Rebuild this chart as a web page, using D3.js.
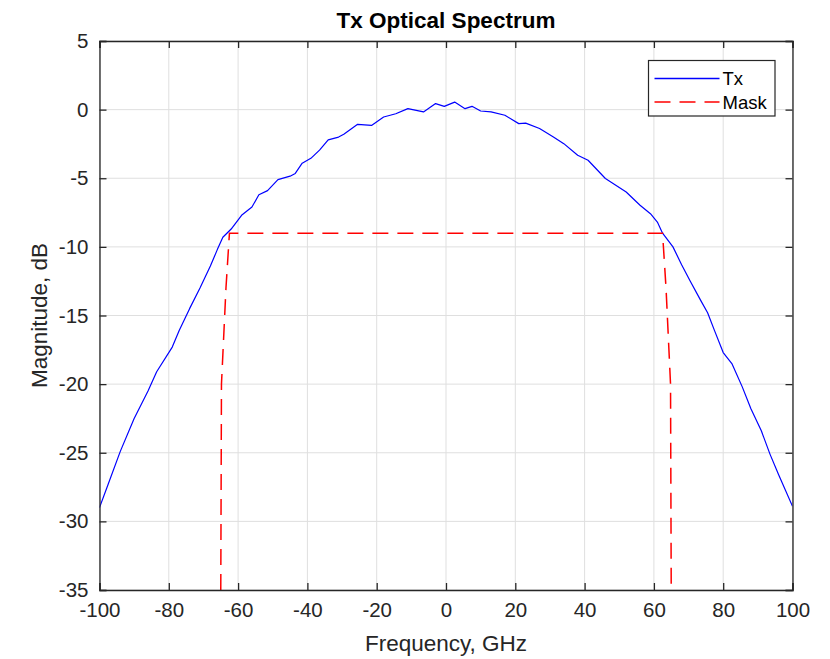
<!DOCTYPE html>
<html>
<head>
<meta charset="utf-8">
<script src="https://cdn.jsdelivr.net/npm/d3@7"></script>
<style>
  html, body { margin: 0; padding: 0; background: #fff; }
  svg { display: block; font-family: "Liberation Sans", Arial, Helvetica, sans-serif; }
</style>
</head>
<body>
<svg id="chart" width="830" height="659"></svg>
<script>
// ---- data ----
const txFreq = [-100,-97.5,-94,-90,-86,-83.5,-79,-77,-74,-71,-68,-66,-64.4,-62,-59,-56,-54,-51.5,-48.5,-45,-43.5,-41.5,-39,-36.5,-34,-31,-29.5,-25.5,-21.5,-18,-14.5,-11,-6.5,-3,-0.5,2.5,5.5,7.5,10,13,17,21,23,27,31,34,38,41,46,49,52,56,59,61,62.5,65.5,68,70.5,73.5,75.5,77.5,80,82.5,85.5,88,91,93.5,96,100];
const txMag  = [-29,-27.3,-24.9,-22.5,-20.5,-19.1,-17.3,-16.1,-14.5,-13.0,-11.4,-10.2,-9.3,-8.7,-7.7,-7.1,-6.2,-5.9,-5.1,-4.85,-4.65,-3.9,-3.55,-2.95,-2.2,-2.0,-1.8,-1.07,-1.15,-0.54,-0.3,0.07,-0.17,0.44,0.24,0.55,0.07,0.24,-0.1,-0.17,-0.41,-1.02,-0.98,-1.38,-1.99,-2.48,-3.33,-3.69,-5.02,-5.51,-6.0,-6.97,-7.58,-8.19,-9.0,-10.0,-11.3,-12.5,-13.9,-14.8,-16.1,-17.7,-18.5,-20.2,-21.8,-23.4,-25.1,-26.6,-28.9];
const maskFreq = [-65,-64.8,-63.5,-62.5,62.5,63.5,64.8,65];
const maskMag  = [-35,-20,-13,-9,-9,-13,-20,-35];
const xTicks = [-100,-80,-60,-40,-20,0,20,40,60,80,100];
const yTicks = [5,0,-5,-10,-15,-20,-25,-30,-35];
const seriesNames = ["Tx","Mask"];
const title = "Tx Optical Spectrum";
const xLabel = "Frequency, GHz";
const yLabel = "Magnitude, dB";

// ---- layout ----
const svg = d3.select("#chart");
const L = 99.5, R = 792.5, T = 41, B = 590;
const axisColor = "#262626";
const x = d3.scaleLinear().domain([-100, 100]).range([L, R]);
const y = d3.scaleLinear().domain([-35, 5]).range([B, T]);

// grid
const grid = svg.append("g");
grid.selectAll("line.gx").data(xTicks).enter().append("line")
  .attr("x1", d => x(d)).attr("x2", d => x(d)).attr("y1", T).attr("y2", B)
  .attr("stroke", "#dfdfdf").attr("stroke-width", 1);
grid.selectAll("line.gy").data(yTicks).enter().append("line")
  .attr("y1", d => y(d)).attr("y2", d => y(d)).attr("x1", L).attr("x2", R)
  .attr("stroke", "#dfdfdf").attr("stroke-width", 1);

// data lines
svg.append("clipPath").attr("id", "clip").append("rect")
  .attr("x", L).attr("y", T).attr("width", R - L).attr("height", B - T);

const lineGen = d3.line().x(d => x(d[0])).y(d => y(d[1]));
const txData = txFreq.map((f, i) => [f, txMag[i]]);
const maskData = maskFreq.map((f, i) => [f, maskMag[i]]);

const plot = svg.append("g").attr("clip-path", "url(#clip)");
plot.append("path").datum(txData).attr("d", lineGen)
  .attr("fill", "none").attr("stroke", "#0000ff").attr("stroke-width", 1.2)
  .attr("stroke-linejoin", "round");
plot.append("path").datum(maskData).attr("d", lineGen)
  .attr("fill", "none").attr("stroke", "#ff0000").attr("stroke-width", 1.5)
  .attr("stroke-dasharray", "16,9");

// axes (box with inward ticks on all sides)
const tickLen = 7;
const fs = 20.5;
const xAxisB = d3.axisBottom(x).tickValues(xTicks).tickSize(-tickLen).tickPadding(12);
const xAxisT = d3.axisTop(x).tickValues(xTicks).tickSize(-tickLen).tickFormat("");
const yAxisL = d3.axisLeft(y).tickValues(yTicks).tickSize(-tickLen).tickPadding(11);
const yAxisR = d3.axisRight(y).tickValues(yTicks).tickSize(-tickLen).tickFormat("");

function style(g) {
  g.selectAll("path.domain").attr("stroke", axisColor).attr("stroke-width", 1.3);
  g.selectAll(".tick line").attr("stroke", axisColor).attr("stroke-width", 1.3);
  g.selectAll(".tick text").attr("fill", axisColor).attr("font-size", fs)
    .attr("font-family", "'Liberation Sans', Arial, sans-serif");
}
svg.append("g").attr("transform", `translate(0,${B})`).call(xAxisB).call(style)
  .selectAll(".tick text").text(d => String(d));
svg.append("g").attr("transform", `translate(0,${T})`).call(xAxisT).call(style);
svg.append("g").attr("transform", `translate(${L},0)`).call(yAxisL).call(style)
  .selectAll(".tick text").text(d => String(d));
svg.append("g").attr("transform", `translate(${R},0)`).call(yAxisR).call(style);

// title & labels
svg.append("text").attr("x", (L + R) / 2).attr("y", 28).attr("text-anchor", "middle")
  .attr("font-size", 22.5).attr("font-weight", "bold").attr("fill", "#000").text(title);
svg.append("text").attr("x", (L + R) / 2).attr("y", 651).attr("text-anchor", "middle")
  .attr("font-size", 22.5).attr("fill", axisColor).text(xLabel);
svg.append("text").attr("transform", `translate(47,${(T + B) / 2}) rotate(-90)`)
  .attr("text-anchor", "middle").attr("font-size", 22.5).attr("fill", axisColor).text(yLabel);

// legend
const lg = svg.append("g");
const lx = 648.5, ly = 60.5, lw = 126.5, lh = 55.5;
lg.append("rect").attr("x", lx).attr("y", ly).attr("width", lw).attr("height", lh)
  .attr("fill", "#fff").attr("stroke", axisColor).attr("stroke-width", 1.2);
const legendStyles = [
  { color: "#0000ff", dash: null, w: 1.3 },
  { color: "#ff0000", dash: "16,9", w: 1.5 }
];
seriesNames.forEach((name, i) => {
  const yy = ly + 18 + i * 23.5;
  lg.append("line").attr("x1", lx + 6).attr("x2", lx + 71).attr("y1", yy).attr("y2", yy)
    .attr("stroke", legendStyles[i].color).attr("stroke-width", legendStyles[i].w)
    .attr("stroke-dasharray", legendStyles[i].dash);
  lg.append("text").attr("x", lx + 74).attr("y", yy + 6.5).attr("font-size", 18.5)
    .attr("fill", "#000").text(name);
});
</script>
</body>
</html>
